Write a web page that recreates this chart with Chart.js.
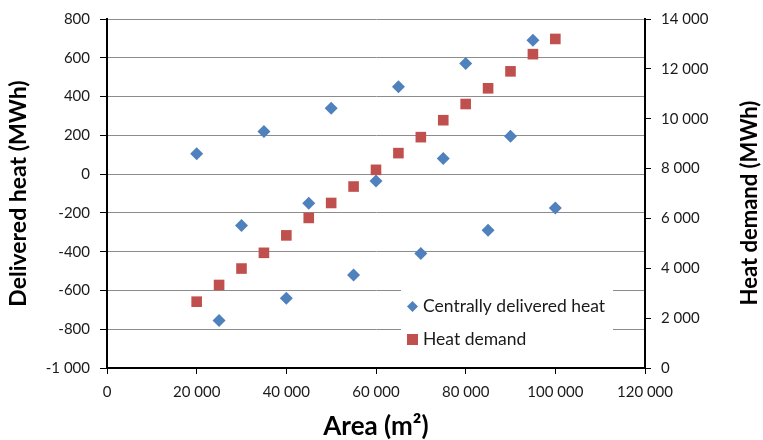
<!DOCTYPE html>
<html>
<head>
<meta charset="utf-8">
<script src="https://cdn.jsdelivr.net/npm/chart.js@4/dist/chart.umd.min.js"></script>
<style>
  html, body { margin: 0; padding: 0; background: #fff; }
  #wrap { width: 763px; height: 440px; }
</style>
</head>
<body>
<div id="wrap"><canvas id="chart" width="763" height="440"></canvas></div>
<script>
// データ
const areas = [20000, 25000, 30000, 35000, 40000, 45000, 50000, 55000, 60000,
               65000, 70000, 75000, 80000, 85000, 90000, 95000, 100000];
const deliveredHeat = [105, -755, -265, 220, -640, -150, 340, -520, -35,
                       450, -410, 80, 570, -290, 195, 690, -175];
const heatDemand = [2660, 3330, 3990, 4620, 5320, 6020, 6620, 7280, 7950,
                    8620, 9260, 9940, 10590, 11220, 11900, 12590, 13200];

const seriesNames = ['Centrally delivered heat', 'Heat demand'];
const xTitle = 'Area (m²)';
const leftTitle = 'Delivered heat (MWh)';
const rightTitle = 'Heat demand (MWh)';

const BLUE = '#4f81bd';
const RED = '#c0504d';
const FONT = 'Lato, "Open Sans", sans-serif';

// 1 000 の形にする
function fmt(v) {
    return String(v).replace(/\B(?=(\d{3})+(?!\d))/g, ' ');
}

const toPoints = (ys) => areas.map((x, i) => ({ x: x, y: ys[i] }));

// 凡例と右側のタイトルは自前で描く
const extras = {
    id: 'extras',
    afterDatasetsDraw(chart) {
        const ctx = chart.ctx;
        ctx.save();

        // 凡例（グリッド線の上に白い箱）
        ctx.fillStyle = '#fff';
        ctx.fillRect(401, 286, 212, 66);

        ctx.fillStyle = BLUE;
        ctx.beginPath();
        ctx.moveTo(412.5, 301);
        ctx.lineTo(418, 306.5);
        ctx.lineTo(412.5, 312);
        ctx.lineTo(407, 306.5);
        ctx.closePath();
        ctx.fill();

        ctx.fillStyle = RED;
        ctx.fillRect(407, 334, 11, 11);

        ctx.fillStyle = '#1a1a1a';
        ctx.font = '17.5px ' + FONT;
        ctx.textBaseline = 'middle';
        ctx.textAlign = 'left';
        ctx.fillText(seriesNames[0], 423, 306.5);
        ctx.fillText(seriesNames[1], 423, 339.5);

        // 右軸タイトル（下から上へ読む）
        ctx.fillStyle = '#000';
        ctx.font = 'bold 22px ' + FONT;
        ctx.textAlign = 'center';
        ctx.translate(749.5, 203);
        ctx.rotate(-Math.PI / 2);
        ctx.fillText(rightTitle, 0, 0);

        ctx.restore();
    }
};

const tickFont = { family: FONT, size: 15 };

const ctx = document.getElementById('chart').getContext('2d');
const myChart = new Chart(ctx, {
    type: 'scatter',
    data: {
        datasets: [{
            label: seriesNames[0],
            data: toPoints(deliveredHeat),
            yAxisID: 'y',
            pointStyle: 'rectRot',
            pointRadius: 6.5,
            backgroundColor: BLUE,
            borderColor: BLUE,
            borderWidth: 0,
            order: 2
        }, {
            label: seriesNames[1],
            data: toPoints(heatDemand),
            yAxisID: 'y1',
            pointStyle: 'rect',
            pointRadius: 7.5,
            backgroundColor: RED,
            borderColor: RED,
            borderWidth: 0,
            order: 1
        }]
    },
    options: {
        responsive: false,
        animation: false,
        events: [],
        layout: { padding: { top: 19, left: 0, right: 0, bottom: 0 } },
        plugins: {
            legend: { display: false },
            tooltip: { enabled: false }
        },
        scales: {
            x: {
                type: 'linear',
                position: 'bottom',
                min: 0,
                max: 120000,
                afterFit: (s) => { s.height = 72; },
                ticks: {
                    stepSize: 20000,
                    padding: 9,
                    color: '#1a1a1a',
                    font: tickFont,
                    callback: (v) => fmt(v)
                },
                grid: { drawOnChartArea: false, tickLength: 6, tickColor: '#000' },
                border: { color: '#000', width: 2 },
                title: {
                    display: true,
                    text: xTitle,
                    color: '#000',
                    font: { family: FONT, size: 26, weight: 'bold', lineHeight: 1 },
                    padding: { top: 0, bottom: 0 }
                }
            },
            y: {
                type: 'linear',
                position: 'left',
                min: -1000,
                max: 800,
                afterFit: (s) => { s.width = 107; },
                ticks: {
                    stepSize: 200,
                    padding: 10,
                    color: '#1a1a1a',
                    font: tickFont,
                    callback: (v) => fmt(v)
                },
                grid: { color: '#8c8c8c', lineWidth: 1, tickLength: 7, tickColor: '#000' },
                border: { color: '#000', width: 2 },
                title: {
                    display: true,
                    text: leftTitle,
                    color: '#000',
                    font: { family: FONT, size: 23, weight: 'bold' },
                    padding: { top: 5, bottom: 0 }
                }
            },
            y1: {
                type: 'linear',
                position: 'right',
                min: 0,
                max: 14000,
                afterFit: (s) => { s.width = 118; },
                ticks: {
                    stepSize: 2000,
                    padding: 10,
                    color: '#1a1a1a',
                    font: tickFont,
                    callback: (v) => fmt(v)
                },
                grid: { drawOnChartArea: false, tickLength: 6, tickColor: '#000' },
                border: { color: '#000', width: 2 }
            }
        }
    },
    plugins: [extras]
});
</script>
</body>
</html>
